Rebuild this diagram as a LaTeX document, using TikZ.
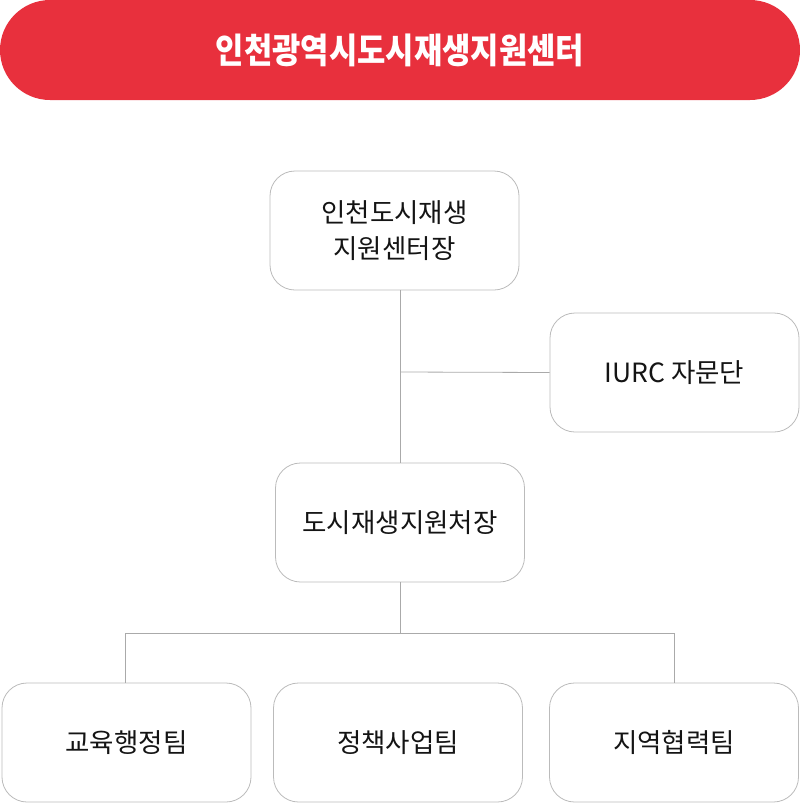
\documentclass[tikz,border=0pt]{standalone}
\usepackage{fontspec}
\setmainfont{Noto Sans CJK KR}
\definecolor{banner}{HTML}{E8303D}
\definecolor{boxline}{HTML}{BBBBBB}
\definecolor{conn}{HTML}{AAAAAA}
\begin{document}
\begin{tikzpicture}[x=1pt,y=-1pt,
  orgbox/.style={draw=boxline,line width=0.8pt,rounded corners=25pt,minimum width=249pt,minimum height=119pt,inner sep=0pt,align=center,font=\fontsize{26.5}{36}\selectfont,text=black!92},
  link/.style={draw=conn,line width=0.8pt}]
\useasboundingbox (0,0) rectangle (800,804);
\node[fill=banner,rounded corners=50pt,minimum width=800pt,minimum height=100pt,inner sep=0pt] (title) at (400,50) {};
\node[text=white,font=\fontsize{35}{40}\selectfont\bfseries,xscale=0.88] (titletext) at (400,50) {인천광역시도시재생지원센터};
\node[orgbox] (head) at (394.5,230.5) {인천도시재생\\지원센터장};
\node[orgbox] (iurc) at (674.5,372.5) {IURC 자문단};
\node[orgbox] (dir) at (400,522.5) {도시재생지원처장};
\node[orgbox] (t1) at (126.5,742.5) {교육행정팀};
\node[orgbox] (t2) at (398,742.5) {정책사업팀};
\node[orgbox] (t3) at (674,742.5) {지역협력팀};
\coordinate (j1) at (400,372);
\coordinate (j2) at (400,633);
\coordinate (l1) at (125,633);
\coordinate (l3) at (674,633);
\coordinate (hb) at (400,290);
\coordinate (dt) at (400,463);
\coordinate (b1) at (125,683);
\coordinate (b3) at (674,683);
\draw[link] (hb) -- (dt);
\draw[link] (j1) -- (iurc.west);
\draw[link] (dir.south) -- (j2);
\draw[link] (l1) -- (l3);
\draw[link] (l1) -- (b1);
\draw[link] (l3) -- (b3);
\end{tikzpicture}
\end{document}
